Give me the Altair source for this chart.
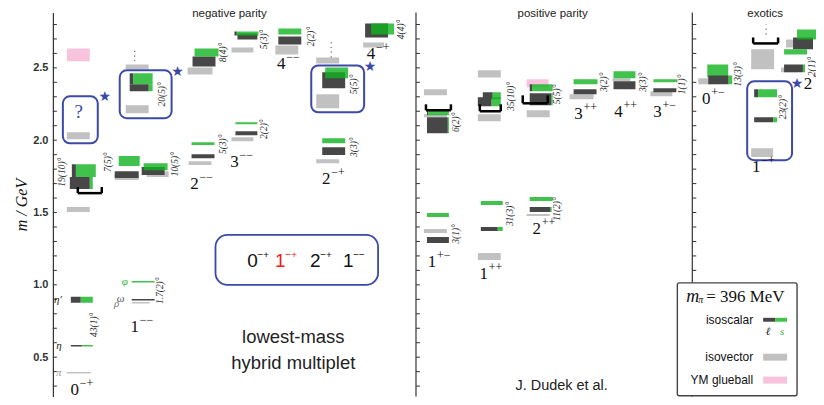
import altair as alt
import pandas as pd

# ---------------- data ----------------
# layout x (horizontal placement units), masses in GeV
# isovector bars: x0, x1, m_lo, m_hi
isovector = [
    (65, 89, 0.388, 0.398), (65, 88, 1.503, 1.538), (65, 88, 2.007, 2.055),
    (130, 148, 0.871, 0.881), (113, 137, 1.724, 1.766), (145, 167, 1.745, 1.786),
    (124, 147, 2.490, 2.524), (124, 147, 2.186, 2.241),
    (187, 210, 1.828, 1.855), (186, 211, 2.455, 2.503),
    (230, 252, 1.993, 2.021), (230, 252, 2.607, 2.641),
    (274, 297, 2.593, 2.655),
    (315, 338, 2.531, 2.572), (315, 338, 2.221, 2.317), (315, 338, 1.841, 1.869),
    (362, 383, 2.641, 2.676),
    (423, 446, 2.310, 2.352), (423, 446, 2.159, 2.179), (423, 446, 1.359, 1.386),
    (477, 500, 2.434, 2.483), (477, 500, 2.131, 2.179), (477, 500, 1.172, 1.221),
    (526, 549, 2.159, 2.207), (526, 549, 1.476, 1.490),
    (569, 593, 2.283, 2.317), (612, 630, 2.407, 2.428), (650, 672, 2.303, 2.338),
    (698, 720, 2.386, 2.428), (751, 774, 2.490, 2.628), (751, 773, 1.883, 1.945),
    (786, 797, 2.641, 2.697), (781, 797, 2.469, 2.503),
]
# Yang-Mills glueballs: x0, x1, m_lo, m_hi
glueball = [(65, 88, 2.545, 2.634), (526, 548, 2.366, 2.421)]
# isoscalar states: x0, x1, light-quark fraction, m_lo, m_hi
isoscalar = [
    (69, 91, 0.50, 0.574, 0.584), (69, 91, 0.45, 0.876, 0.917),
    (70, 94, 0.17, 1.745, 1.834), (68, 91, 0.87, 1.662, 1.745),
    (128, 151, 0.15, 2.386, 2.462), (128, 151, 0.83, 2.338, 2.386),
    (130, 153, 0.0, 1.016, 1.026), (130, 153, 1.0, 0.892, 0.902),
    (117, 138, 0.0, 1.821, 1.890), (113, 137, 1.0, 1.738, 1.786),
    (140, 163, 1.0, 1.759, 1.814), (142, 166, 0.0, 1.793, 1.841),
    (190, 213, 0.0, 1.966, 1.986), (190, 213, 1.0, 1.876, 1.903),
    (191, 214, 1.0, 2.510, 2.579), (193, 217, 0.0, 2.579, 2.634),
    (234, 256, 0.0, 2.110, 2.124), (234, 256, 1.0, 2.034, 2.062),
    (236, 256, 1.0, 2.697, 2.738), (233, 257, 0.1, 2.724, 2.752),
    (277, 300, 0.0, 2.731, 2.772), (277, 300, 1.0, 2.662, 2.717),
    (321, 344, 1.0, 2.359, 2.469), (324, 347, 0.0, 2.428, 2.503),
    (321, 344, 0.0, 1.979, 2.014), (321, 344, 1.0, 1.897, 1.952),
    (364, 387, 1.0, 2.710, 2.807), (370, 393, 0.0, 2.731, 2.807),
    (426, 448, 0.05, 2.172, 2.207), (426, 448, 0.95, 2.048, 2.159),
    (426, 448, 0.0, 1.469, 1.497), (426, 448, 1.0, 1.290, 1.331),
    (482, 500, 0.55, 2.283, 2.331), (477, 500, 0.6, 2.234, 2.297),
    (480, 502, 0.0, 1.552, 1.579), (480, 502, 0.77, 1.372, 1.400),
    (529, 552, 0.95, 2.241, 2.324), (529, 552, 0.1, 2.338, 2.386),
    (529, 552, 0.0, 1.579, 1.607), (529, 551, 0.95, 1.503, 1.538),
    (573, 597, 0.0, 2.386, 2.421), (573, 596, 1.0, 2.317, 2.352),
    (613, 635, 0.0, 2.428, 2.476), (613, 635, 1.0, 2.352, 2.407),
    (653, 677, 0.0, 2.400, 2.421), (653, 676, 1.0, 2.331, 2.359),
    (707, 728, 0.0, 2.434, 2.524), (708, 732, 0.85, 2.386, 2.448),
    (754, 777, 0.17, 2.297, 2.352), (754, 777, 0.83, 2.124, 2.159),
    (793, 813, 1.0, 2.628, 2.710), (797, 819, 0.0, 2.697, 2.766),
    (784, 807, 0.0, 2.593, 2.628), (784, 805, 0.9, 2.469, 2.524),
]
# thresholds (brackets): x0, x1, m_top, m_bottom
brackets = [(76, 100, 1.676, 1.634), (425, 450, 2.248, 2.207), (479, 500, 2.248, 2.200),
            (522, 547, 2.310, 2.255), (753, 778, 2.710, 2.669)]
# "more states above" dots: x, m_lo, m_hi
dots = [(133, 2.545, 2.641), (330, 2.572, 2.683), (766, 2.731, 2.800)]
# hybrid boxes: x0, x1, m_lo, m_hi
hybrid_boxes = [(61, 96, 1.979, 2.303), (118, 170, 2.152, 2.483),
                (310, 363, 2.193, 2.517), (747, 792, 1.862, 2.407)]
stars = [(103, 2.297), (176, 2.469), (369, 2.503), (797, 2.386)]
# J^PC labels: J, PC, x, m
jpc_labels = [
    ("0", "−+", 80, 0.272), ("1", "−−", 140, 0.710), ("2", "−−", 200, 1.697),
    ("3", "−−", 240, 1.848), ("4", "−−", 287, 2.524), ("2", "−+", 332, 1.731),
    ("4", "−+", 377, 2.593), ("1", "+−", 438, 1.159), ("1", "++", 490, 1.076),
    ("2", "++", 543, 1.386), ("3", "++", 585, 2.179), ("4", "++", 625, 2.193),
    ("3", "+−", 664, 2.193), ("0", "+−", 713, 2.283), ("1", "−+", 763, 1.814),
    ("2", "+−", 815, 2.386),
]
mixing_labels = [
    ("19(10)°", 60, 1.779), ("43(1)°", 92, 0.724), ("1.7(2)°", 158, 0.959),
    ("7(5)°", 106, 1.848), ("10(5)°", 173, 1.834), ("20(5)°", 160, 2.317),
    ("5(3)°", 222, 1.972), ("8(4)°", 222, 2.607), ("2(2)°", 263, 2.076),
    ("5(3)°", 263, 2.697), ("2(2)°", 310, 2.717), ("5(5)°", 353, 2.386),
    ("3(3)°", 353, 1.952), ("4(4)°", 400, 2.766), ("6(2)°", 455, 2.124),
    ("3(1)°", 455, 1.352), ("35(10)°", 510, 2.303), ("31(3)°", 509, 1.490),
    ("5(5)°", 556, 2.317), ("11(2)°", 556, 1.524), ("3(2)°", 603, 2.400),
    ("3(3)°", 643, 2.400), ("1(1)°", 682, 2.386), ("13(3)°", 738, 2.455),
    ("23(2)°", 783, 2.228), ("2(1)°", 812, 2.510),
]
particle_labels = [("η′", 56, 0.897, "#222"), ("η", 57, 0.579, "#222"),
                   ("π", 57, 0.393, "#999"), ("φ", 123, 1.021, "#2fb83c"),
                   ("ω", 119, 0.905, "#555"), ("ρ", 115, 0.868, "#777")]
panel_titles = [("negative parity", 228, 2.869), ("positive parity", 552, 2.869),
                ("exotics", 765, 2.869)]
panel_axes = [51, 415, 692]
tick_values = [0.3, 0.4, 0.5, 0.6, 0.7, 0.8, 0.9, 1.0, 1.1, 1.2, 1.3, 1.4, 1.5, 1.6,
               1.7, 1.8, 1.9, 2.0, 2.1, 2.2, 2.3, 2.4, 2.5, 2.6, 2.7, 2.8]
label_values = [0.5, 1.0, 1.5, 2.0, 2.5]

# ---------------- styling ----------------
W, H = 765, 385
XD = [51, 816]
YD = [0.228, 2.883]
BLUE = "#3b4aa6"
DARK, GREEN, GRAY, PINK = "#474747", "#10b31f", "#c1c1c1", "#f8c4dd"
xs = alt.Scale(domain=XD, nice=False, zero=False)
ys = alt.Scale(domain=YD, nice=False, zero=False)
AX = alt.Axis(
    values=label_values, format=".1f", ticks=False, grid=False, domain=True,
    domainColor="#333", domainWidth=1.2, labelFont="Liberation Sans",
    labelFontSize=11, labelFontWeight="bold", labelColor="#333", labelPadding=5,
    title="m / GeV", titleFont="Liberation Serif", titleFontSize=16,
    titleFontWeight="normal", titleFontStyle="italic", titleColor="#111",
    titlePadding=3)


def X(f):
    return alt.X(f, type="quantitative", scale=xs, axis=None)


def Y(f):
    return alt.Y(f, type="quantitative", scale=ys, axis=AX)


# rectangles
rows = []
for x0, x1, lo, hi in glueball:
    rows.append(dict(x0=x0, x1=x1, lo=lo, hi=hi, c=PINK, op=1.0))
for x0, x1, lo, hi in isovector:
    rows.append(dict(x0=x0, x1=x1, lo=lo, hi=hi, c=GRAY, op=1.0))
for x0, x1, f, lo, hi in isoscalar:
    xm = x0 + f * (x1 - x0)
    if f > 0:
        rows.append(dict(x0=x0, x1=xm, lo=lo, hi=hi, c=DARK, op=1.0))
    if f < 1:
        rows.append(dict(x0=xm, x1=x1, lo=lo, hi=hi, c=GREEN, op=0.8))
rect_df = pd.DataFrame(rows)

tick_len = 4
tick_df = pd.DataFrame([dict(x=a, x2=a + tick_len, y=t) for a in panel_axes for t in tick_values])

axis_layer = alt.Chart(tick_df).mark_rule(color="#333", strokeWidth=1).encode(
    x=X("x"), x2="x2", y=Y("y"))

div_df = pd.DataFrame({"x": panel_axes[1:]})
dividers = alt.Chart(div_df).mark_rule(color="#333", strokeWidth=1.2).encode(
    x=X("x"), y=alt.value(0), y2=alt.value(H))

rects = alt.Chart(rect_df).mark_rect(clip=True).encode(
    x=X("x0"), x2="x1", y=Y("lo"), y2="hi",
    color=alt.Color("c:N", scale=None, legend=None),
    opacity=alt.Opacity("op:Q", scale=None, legend=None))

seg = []
for x0, x1, top, bot in brackets:
    seg += [dict(x=x0, x2=x1, y=bot, y2=bot), dict(x=x0, x2=x0, y=bot, y2=top),
            dict(x=x1, x2=x1, y=bot, y2=top)]
bracket_layer = alt.Chart(pd.DataFrame(seg)).mark_rule(color="black", strokeWidth=2.5).encode(
    x=X("x"), x2="x2", y=Y("y"), y2="y2")

dot_layer = alt.Chart(pd.DataFrame(dots, columns=["x", "lo", "hi"])).mark_rule(
    color="#666", strokeWidth=1.2, strokeDash=[1.2, 3.5]).encode(
    x=X("x"), y=Y("lo"), y2="hi")

box_layer = alt.Chart(pd.DataFrame(hybrid_boxes, columns=["x0", "x1", "lo", "hi"])).mark_rect(
    fillOpacity=0, stroke=BLUE, strokeWidth=2, cornerRadius=7).encode(
    x=X("x0"), x2="x1", y=Y("lo"), y2="hi")

star_layer = alt.Chart(pd.DataFrame(stars, columns=["x", "m"])).mark_text(
    text="★", color=BLUE, fontSize=14, font="DejaVu Sans").encode(x=X("x"), y=Y("m"))


def txt(data, cols=("t", "x", "m"), clip=False, **kw):
    df = pd.DataFrame(data, columns=list(cols))
    enc = dict(x=X("x"), y=Y("m"), text="t:N")
    if "c" in cols:
        enc["color"] = alt.Color("c:N", scale=None, legend=None)
    return alt.Chart(df).mark_text(clip=clip, **kw).encode(**enc)


jpc_j = txt([(j, x, m) for j, pc, x, m in jpc_labels], clip=True, font="Liberation Serif",
            fontSize=17, color="#111", align="center", dx=-7)
jpc_pc = txt([(pc, x, m) for j, pc, x, m in jpc_labels], clip=True, font="Liberation Serif",
             fontSize=12, color="#111", align="left", dx=-2, dy=-7)
mix_layer = txt(mixing_labels, clip=True, font="Liberation Serif", fontSize=9.5,
                fontStyle="italic", angle=270, color="#333")
part_layer = txt(particle_labels, cols=("t", "x", "m", "c"), font="Liberation Serif",
                 fontSize=11, fontStyle="italic")
title_layer = txt(panel_titles, font="Liberation Sans", fontSize=11.5, color="#222")
q_layer = txt([("?", 77, 2.193)], font="Liberation Serif", fontSize=19, color=BLUE)

# lowest-mass hybrid multiplet box
multiplet_box = [(214, 377, 1.0, 1.345)]
mbox_layer = alt.Chart(pd.DataFrame(multiplet_box, columns=["x0", "x1", "lo", "hi"])).mark_rect(
    fillOpacity=0, stroke=BLUE, strokeWidth=1.8, cornerRadius=12).encode(
    x=X("x0"), x2="x1", y=Y("lo"), y2="hi")
multiplet = [("0", "−+", 257, 1.166, "#111"), ("1", "−+", 285, 1.166, "#e8211b"),
             ("2", "−+", 320, 1.166, "#111"), ("1", "−−", 353, 1.166, "#111")]
mult_j = txt([(j, x, m, c) for j, pc, x, m, c in multiplet], cols=("t", "x", "m", "c"),
             font="Liberation Sans", fontSize=19, align="center", dx=-6)
mult_pc = txt([(pc, x, m, c) for j, pc, x, m, c in multiplet], cols=("t", "x", "m", "c"),
              font="Liberation Sans", fontSize=10, align="left", dx=-1, dy=-6)
notes = [("lowest-mass", 292, 0.641), ("hybrid multiplet", 292, 0.462)]
notes_layer = txt(notes, font="Liberation Sans", fontSize=18.5, color="#222")
credit_layer = txt([("J. Dudek et al.", 561, 0.303)], font="Liberation Sans", fontSize=14.5,
                   color="#222")

# legend box
leg_box = [(677, 797, 0.233, 1.014)]
leg_rect = alt.Chart(pd.DataFrame(leg_box, columns=["x0", "x1", "lo", "hi"])).mark_rect(
    fill="white", stroke="#444", strokeWidth=1.4, cornerRadius=2).encode(
    x=X("x0"), x2="x1", y=Y("lo"), y2="hi")
leg_sw = [(763, 775, 0.745, 0.772, DARK, 1.0), (775, 787, 0.745, 0.772, GREEN, 0.8),
          (763, 787, 0.476, 0.524, GRAY, 1.0), (763, 787, 0.317, 0.366, PINK, 1.0)]
leg_sw_layer = alt.Chart(pd.DataFrame(leg_sw, columns=["x0", "x1", "lo", "hi", "c", "op"])).mark_rect().encode(
    x=X("x0"), x2="x1", y=Y("lo"), y2="hi",
    color=alt.Color("c:N", scale=None, legend=None),
    opacity=alt.Opacity("op:Q", scale=None, legend=None))
leg_names = [("isoscalar", 753, 0.759), ("isovector", 753, 0.503), ("YM glueball", 753, 0.345)]
leg_txt = txt(leg_names, font="Liberation Sans", fontSize=12, align="right", color="#111")
leg_m = txt([("m", 686, 0.917)], font="Liberation Serif", fontSize=18, fontStyle="italic",
            align="left", color="#111")
leg_pi = txt([("π", 698, 0.893)], font="Liberation Serif", fontSize=10, fontStyle="italic",
             align="left", color="#111")
leg_val = txt([("= 396 MeV", 706, 0.917)], font="Liberation Serif", fontSize=17,
              align="left", color="#111")
leg_ls = txt([("ℓ", 768, 0.676, "#111"), ("s", 782, 0.676, "#2fb83c")], cols=("t", "x", "m", "c"),
             font="Liberation Serif", fontSize=11, fontStyle="italic")

chart = alt.layer(
    axis_layer, dividers, rects, bracket_layer, dot_layer, box_layer, star_layer,
    jpc_j, jpc_pc, mix_layer, part_layer, title_layer, q_layer, mbox_layer, mult_j, mult_pc,
    notes_layer, credit_layer, leg_rect, leg_sw_layer, leg_txt, leg_m, leg_pi, leg_val,
    leg_ls,
).properties(
    width=W, height=H, padding={"left": 5, "top": 0, "right": 0, "bottom": 0}
).configure_view(stroke=None)

chart.save("out.html", embed_options={"renderer": "svg", "actions": False})
